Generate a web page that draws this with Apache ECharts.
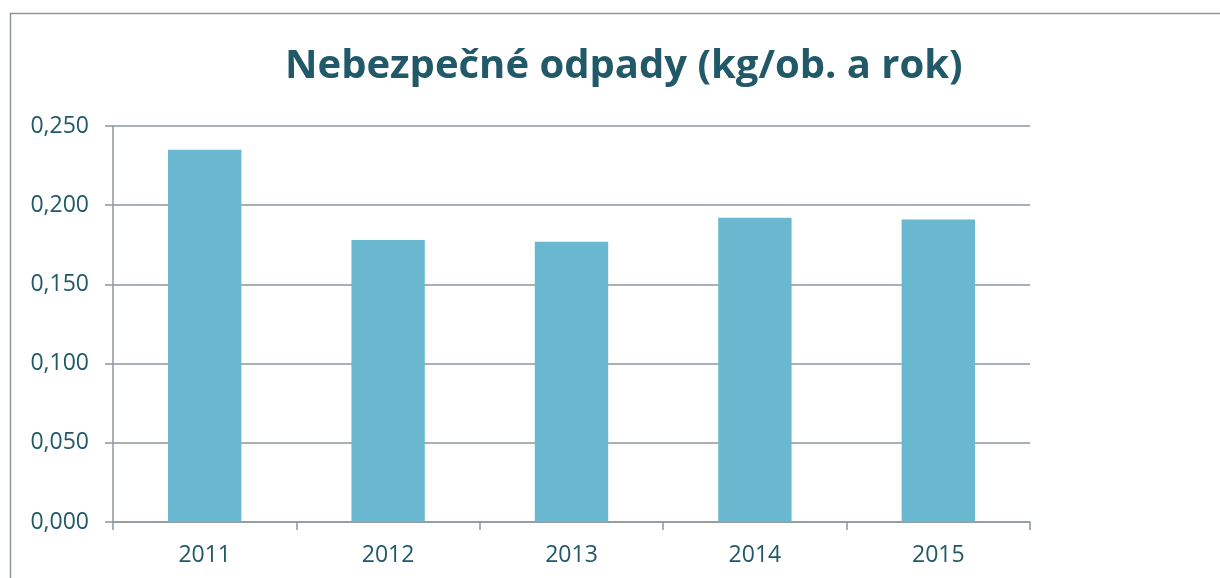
<!DOCTYPE html>
<html>
<head>
<meta charset="utf-8">
<script src="https://cdn.jsdelivr.net/npm/echarts@6/dist/echarts.min.js"></script>
<style>
  html, body { margin: 0; padding: 0; background: #ffffff; }
  #main { width: 1220px; height: 578px; }
</style>
</head>
<body>
<div id="main"></div>
<script>
// data
var years = ['2011', '2012', '2013', '2014', '2015'];
var values = [0.235, 0.178, 0.177, 0.192, 0.191];
var yTicks = [0, 0.05, 0.1, 0.15, 0.2, 0.25];

var textColor = '#215968';
var lineColor = '#8c979e';

var chart = echarts.init(document.getElementById('main'));

var option = {
  backgroundColor: '#ffffff',
  animation: false,
  title: {
    text: 'Nebezpečné odpady (kg/ob. a rok)',
    left: 280,
    top: 42,
    textStyle: {
      fontFamily: 'Open Sans',
      fontWeight: 'bold',
      fontSize: 40,
      color: textColor
    }
  },
  graphic: [{
    type: 'rect',
    shape: { x: 10.5, y: 13.5, width: 1400, height: 800 },
    style: { fill: 'none', stroke: '#8e969b', lineWidth: 1.5 },
    silent: true
  }],
  grid: {
    left: 113,
    right: 190,
    top: 126,
    bottom: 56
  },
  xAxis: {
    type: 'category',
    data: years,
    axisLine: { show: true, lineStyle: { color: lineColor, width: 1.5 } },
    axisTick: { show: true, length: 8, lineStyle: { color: lineColor, width: 1.5 } },
    axisLabel: {
      margin: 22,
      fontFamily: 'Open Sans',
      fontSize: 23,
      color: textColor
    }
  },
  yAxis: {
    type: 'value',
    min: yTicks[0],
    max: yTicks[yTicks.length - 1],
    interval: 0.05,
    axisLine: { show: true, lineStyle: { color: lineColor, width: 1.5 } },
    axisTick: { show: true, length: 8, lineStyle: { color: lineColor, width: 1.5 } },
    splitLine: { show: true, lineStyle: { color: lineColor, width: 1.5 } },
    axisLabel: {
      margin: 24,
      fontFamily: 'Open Sans',
      fontSize: 23,
      color: textColor,
      formatter: function (v) { return v.toFixed(3).replace('.', ','); }
    }
  },
  series: [{
    type: 'bar',
    data: values,
    barWidth: '40%',
    itemStyle: { color: '#69b8cf' }
  }]
};

chart.setOption(option);
</script>
</body>
</html>
